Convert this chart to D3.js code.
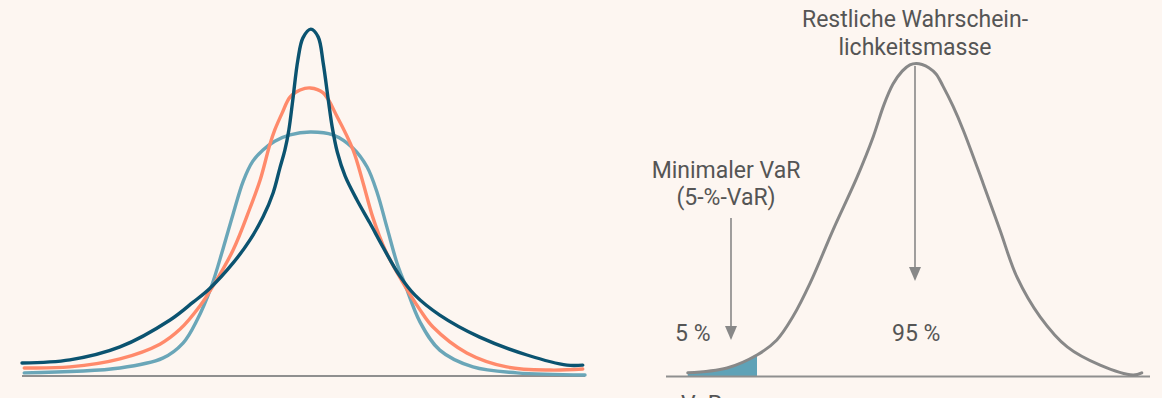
<!DOCTYPE html>
<html>
<head>
<meta charset="utf-8">
<script src="https://cdn.jsdelivr.net/npm/d3@7"></script>
<style>
  html, body { margin: 0; padding: 0; background: #fdf6f1; }
  svg { display: block; }
  text { font-family: Roboto, "Noto Sans", sans-serif; fill: #555; }
</style>
</head>
<body>
<svg id="chart" width="1162" height="398"></svg>
<script>
// ---- Data (x: position 0-100 across each panel, y: relative density 0-100) ----
const darkX   = [0, 8.5, 17.4, 26.3, 30.4, 33.4, 37.5, 40.5, 42.8, 44.6, 45.8, 46.7, 47.4, 48.1, 49.0, 49.9, 51.3, 52.6, 53.5, 54.4, 55.1, 56.0, 57.4, 59.5, 61.8, 64.1, 67.1, 69.8, 74.2, 81.3, 89.7, 96.8, 99.6];
const darkY   = [3.7, 4.6, 8.3, 16.0, 21.1, 25.1, 32.3, 38.9, 45.4, 52.3, 59.4, 64.6, 70.3, 78.9, 90.3, 96.6, 99.1, 96.9, 89.4, 78.9, 71.1, 64.0, 57.1, 50.3, 43.7, 36.9, 28.6, 23.1, 17.4, 11.1, 6.0, 3.1, 3.1];

const orangeX = [0.4, 8.5, 17.4, 24.5, 28.1, 31.6, 33.7, 37.5, 40.5, 42.3, 44.0, 44.9, 46.2, 47.6, 49.4, 51.2, 53.5, 56.0, 58.8, 60.6, 62.3, 64.5, 67.5, 70.7, 73.0, 79.0, 86.1, 93.8, 99.6];
const orangeY = [2.3, 2.6, 4.9, 9.1, 13.4, 20.0, 25.1, 36.0, 48.0, 56.0, 66.0, 70.3, 75.1, 79.7, 81.7, 82.3, 80.9, 74.0, 64.6, 55.1, 45.4, 36.0, 27.1, 18.9, 14.0, 6.6, 2.6, 1.7, 2.0];

const lightX  = [0.4, 17.4, 25.0, 28.6, 31.1, 33.6, 35.7, 37.5, 39.3, 41.0, 42.8, 44.9, 47.6, 51.2, 55.2, 58.8, 61.3, 63.1, 64.8, 66.6, 68.0, 70.7, 74.2, 80.1, 87.9, 100];
const lightY  = [0.9, 2.3, 5.1, 9.4, 16.0, 25.4, 36.3, 46.3, 55.7, 61.4, 64.6, 67.1, 68.9, 69.7, 68.9, 65.1, 59.7, 52.3, 42.6, 32.3, 26.3, 15.4, 7.4, 2.6, 0.9, 0.3];

const grayX   = [4.5, 12.6, 18.8, 22.9, 26.2, 29.8, 34.5, 39.5, 42.8, 45.0, 46.9, 48.8, 50.4, 51.7, 52.9, 54.3, 55.8, 57.2, 59.3, 61.4, 65.5, 69.0, 72.5, 77.3, 82.9, 89.7, 96.5, 98.3];
const grayY   = [0.9, 2.3, 6.0, 10.3, 16.9, 26.6, 41.7, 56.9, 68.3, 77.4, 83.4, 87.1, 88.9, 89.3, 89.0, 88.1, 86.3, 82.9, 77.1, 70.3, 55.1, 41.7, 28.3, 16.9, 8.3, 3.1, 0.3, 0.9];

const varCut = 18.8;          // x position of the 5 % VaR cut
const labelsTop   = ["Restliche Wahrschein-", "lichkeitsmasse"];
const labelsMin   = ["Minimaler VaR", "(5-%-VaR)"];
const labelTail   = "5 %";
const labelBody   = "95 %";
const labelVaR    = "VaR";

// ---- Setup ----
const svg = d3.select("#chart");
svg.append("rect").attr("width", 1162).attr("height", 398).attr("fill", "#fdf6f1");

const y = d3.scaleLinear().domain([0, 100]).range([376, 26]);
const xL = d3.scaleLinear().domain([0, 100]).range([22, 585]);
const xR = d3.scaleLinear().domain([0, 100]).range([666, 1150]);

const zip = (xs, ys) => xs.map((v, i) => ({x: v, y: ys[i]}));

// ---- Left panel ----
svg.append("line")
  .attr("x1", xL(0)).attr("x2", xL(100))
  .attr("y1", y(0)).attr("y2", y(0))
  .attr("stroke", "#8f8f8f").attr("stroke-width", 2);

const lineL = d3.line().x(d => xL(d.x)).y(d => y(d.y)).curve(d3.curveCatmullRom.alpha(0.5));
const seriesL = [
  {data: zip(lightX, lightY),   color: "#6aa6b8"},
  {data: zip(orangeX, orangeY), color: "#ff8a6b"},
  {data: zip(darkX, darkY),     color: "#0b5370"}
];
svg.selectAll("path.left").data(seriesL).join("path")
  .attr("class", "left")
  .attr("d", d => lineL(d.data))
  .attr("fill", "none")
  .attr("stroke", d => d.color)
  .attr("stroke-width", 3.4)
  .attr("stroke-linecap", "round")
  .attr("stroke-linejoin", "round");

// ---- Right panel ----
const grayData = zip(grayX, grayY);
const defs = svg.append("defs");
defs.append("clipPath").attr("id", "tailClip")
  .append("rect")
  .attr("x", 0).attr("y", 0)
  .attr("width", xR(varCut)).attr("height", 398);

const areaR = d3.area().x(d => xR(d.x)).y0(y(0)).y1(d => y(d.y)).curve(d3.curveCatmullRom.alpha(0.5));
svg.append("path")
  .attr("d", areaR(grayData))
  .attr("fill", "#5fa2b7")
  .attr("clip-path", "url(#tailClip)");

svg.append("line")
  .attr("x1", xR(0)).attr("x2", xR(100))
  .attr("y1", y(0) + 0.5).attr("y2", y(0) + 0.5)
  .attr("stroke", "#8f8f8f").attr("stroke-width", 2);

const lineR = d3.line().x(d => xR(d.x)).y(d => y(d.y)).curve(d3.curveCatmullRom.alpha(0.5));
svg.append("path")
  .attr("d", lineR(grayData))
  .attr("fill", "none")
  .attr("stroke", "#888")
  .attr("stroke-width", 3)
  .attr("stroke-linecap", "round");

// arrows
function arrow(x, y1, y2) {
  svg.append("line")
    .attr("x1", x).attr("x2", x)
    .attr("y1", y1).attr("y2", y2 - 12)
    .attr("stroke", "#888").attr("stroke-width", 1.6);
  svg.append("path")
    .attr("d", `M${x - 6},${y2 - 14} L${x + 6},${y2 - 14} L${x},${y2} Z`)
    .attr("fill", "#888");
}
arrow(731, 218, 340);
arrow(915, 66, 281);

// labels
const fs = 23;
svg.append("text").attr("x", 915).attr("y", 27).attr("text-anchor", "middle")
  .attr("font-size", fs).text(labelsTop[0]);
svg.append("text").attr("x", 915).attr("y", 55).attr("text-anchor", "middle")
  .attr("font-size", fs).text(labelsTop[1]);
svg.append("text").attr("x", 726).attr("y", 178).attr("text-anchor", "middle")
  .attr("font-size", fs).text(labelsMin[0]);
svg.append("text").attr("x", 726).attr("y", 205).attr("text-anchor", "middle")
  .attr("font-size", fs).text(labelsMin[1]);
svg.append("text").attr("x", 675).attr("y", 341)
  .attr("font-size", fs).text(labelTail);
svg.append("text").attr("x", 892).attr("y", 341)
  .attr("font-size", fs).text(labelBody);
svg.append("text").attr("x", 681).attr("y", 412)
  .attr("font-size", fs).text(labelVaR);
</script>
</body>
</html>
